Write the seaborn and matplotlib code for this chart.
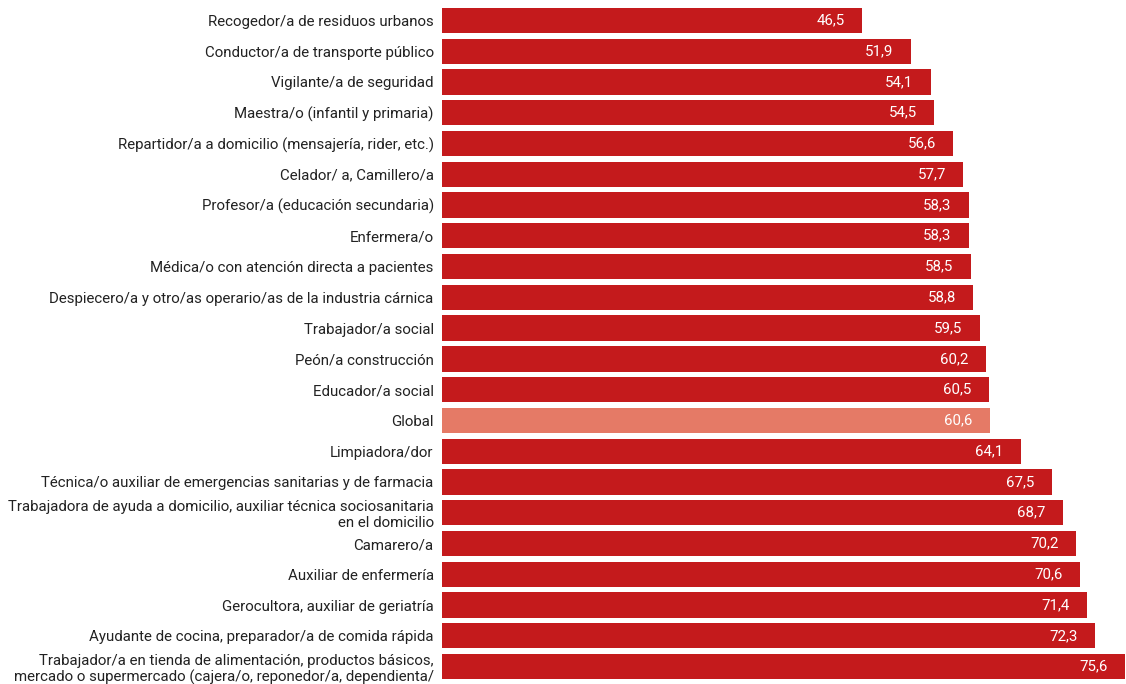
import pandas as pd
import seaborn as sns
import matplotlib.pyplot as plt

occupations = [
    'Recogedor/a de residuos urbanos',
    'Conductor/a de transporte público',
    'Vigilante/a de seguridad',
    'Maestra/o (infantil y primaria)',
    'Repartidor/a a domicilio (mensajería, rider, etc.)',
    'Celador/ a, Camillero/a',
    'Profesor/a (educación secundaria)',
    'Enfermera/o',
    'Médica/o con atención directa a pacientes',
    'Despiecero/a y otro/as operario/as de la industria cárnica',
    'Trabajador/a social',
    'Peón/a construcción',
    'Educador/a social',
    'Global',
    'Limpiadora/dor',
    'Técnica/o auxiliar de emergencias sanitarias y de farmacia',
    'Trabajadora de ayuda a domicilio, auxiliar técnica sociosanitaria\nen el domicilio',
    'Camarero/a',
    'Auxiliar de enfermería',
    'Gerocultora, auxiliar de geriatría',
    'Ayudante de cocina, preparador/a de comida rápida',
    'Trabajador/a en tienda de alimentación, productos básicos,\nmercado o supermercado (cajera/o, reponedor/a, dependienta/',
]
scores = [46.5, 51.9, 54.1, 54.5, 56.6, 57.7, 58.3, 58.3, 58.5, 58.8, 59.5,
          60.2, 60.5, 60.6, 64.1, 67.5, 68.7, 70.2, 70.6, 71.4, 72.3, 75.6]

df = pd.DataFrame({'ocupacion': occupations, 'valor': scores})

red = '#c41a1c'
highlight = '#e57a66'
colors = [highlight if o == 'Global' else red for o in occupations]

plt.rcParams['font.family'] = ['Roboto', 'DejaVu Sans']

fig = plt.figure(figsize=(11.26, 6.84), dpi=100)
ax = fig.add_axes([442 / 1126, 2 / 684, 1 - 442 / 1126, 677 / 684])

sns.barplot(data=df, x='valor', y='ocupacion', hue='ocupacion', palette=colors,
            legend=False, width=0.82, saturation=1, ax=ax)

ax.set_xlim(0, 75.7)
ax.set_ylim(len(occupations) - 0.5, -0.5)
ax.set_xlabel('')
ax.set_ylabel('')
ax.set_xticks([])
ax.tick_params(axis='y', length=0, pad=6, labelsize=10.8, labelcolor='#222222')
for s in ax.spines.values():
    s.set_visible(False)

for cont in ax.containers:
    vals = cont.datavalues
    ax.bar_label(cont, labels=[f'{v:.1f}'.replace('.', ',') for v in vals],
                 label_type='edge', padding=-33, color='white', fontsize=10.8)

plt.savefig('out.png', dpi=100)
